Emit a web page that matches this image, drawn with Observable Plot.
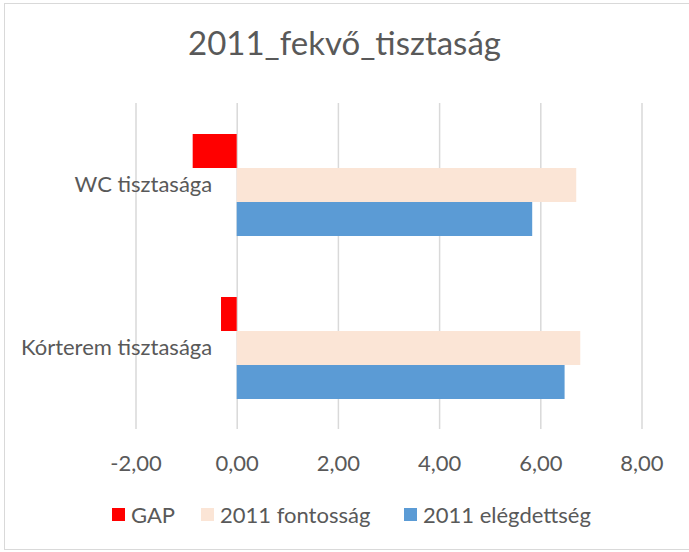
<!DOCTYPE html>
<html>
<head>
<meta charset="utf-8">
<script src="https://cdn.jsdelivr.net/npm/d3@7"></script>
<script src="https://cdn.jsdelivr.net/npm/@observablehq/plot@0.6"></script>
<style>
  html, body { margin: 0; padding: 0; background: #fff; }
  body { width: 689px; height: 552px; position: relative; overflow: hidden; font-family: Lato, "Open Sans", sans-serif; color: #595959; }
  #frame { position: absolute; left: 4px; top: 3px; width: 700px; height: 547px; border: 1px solid #d9d9d9; box-sizing: border-box; }
  #title { position: absolute; left: 0; width: 689px; top: 22px; text-align: center; font-size: 33px; line-height: 40px; color: #595959; }
  #chart { position: absolute; left: 0; top: 96px; }
  #legend { position: absolute; top: 500px; left: 0; width: 689px; height: 28px; font-size: 22px; }
  .item { position: absolute; top: 0; display: flex; align-items: center; height: 28px; white-space: nowrap; }
  .sw { width: 13px; height: 13px; margin-right: 6px; }
</style>
</head>
<body>
<div id="frame"></div>
<div id="title">2011_fekvő_tisztaság</div>
<div id="chart"></div>
<div id="legend"></div>
<script>
const categories = ["WC tisztasága", "Kórterem tisztasága"];
const seriesNames = ["GAP", "2011 fontosság", "2011 elégdettség"];
const seriesColors = ["#FF0000", "#FBE5D6", "#5B9BD5"];
const gapValues = [-0.87, -0.31];
const fontossagValues = [6.71, 6.79];
const elegedettsegValues = [5.84, 6.48];
const xTicks = [-2, 0, 2, 4, 6, 8];

const seriesValues = [gapValues, fontossagValues, elegedettsegValues];
const rows = [];
categories.forEach((c, i) => {
  seriesNames.forEach((s, j) => rows.push({category: c, series: s, value: seriesValues[j][i]}));
});

const fmt = v => v.toFixed(2).replace(".", ",");

const plot = Plot.plot({
  width: 689,
  height: 390,
  marginLeft: 135.5,
  marginRight: 47.5,
  marginTop: 7,
  marginBottom: 57,
  style: {fontFamily: "Lato, 'Open Sans', sans-serif", fontSize: "22px", color: "#595959", background: "transparent"},
  x: {domain: [-2, 8], ticks: xTicks, tickFormat: fmt, tickSize: 0, tickPadding: 26, label: null},
  y: {domain: seriesNames, axis: null, paddingInner: 0, paddingOuter: 0.897},
  fy: {domain: categories, axis: null, padding: 0},
  color: {domain: seriesNames, range: seriesColors},
  marks: [
    Plot.gridX(xTicks, {stroke: "#d9d9d9", strokeOpacity: 1, strokeWidth: 1.5}),
    Plot.barX(rows, {fy: "category", y: "series", x: "value", fill: "series", insetTop: 0, insetBottom: 0}),
    Plot.text(categories, {fy: d => d, x: 0, text: d => d, textAnchor: "end", dx: -25, frameAnchor: "middle", fill: "#595959", fontSize: 22})
  ]
});
document.getElementById("chart").appendChild(plot);

const legend = document.getElementById("legend");
const swLeft = [112, 201, 404];
seriesNames.forEach((s, i) => {
  const it = document.createElement("div");
  it.className = "item";
  it.style.left = swLeft[i] + "px";
  const sw = document.createElement("div");
  sw.className = "sw";
  sw.style.background = seriesColors[i];
  it.appendChild(sw);
  const t = document.createElement("span");
  t.textContent = s;
  it.appendChild(t);
  legend.appendChild(it);
});
</script>
</body>
</html>
